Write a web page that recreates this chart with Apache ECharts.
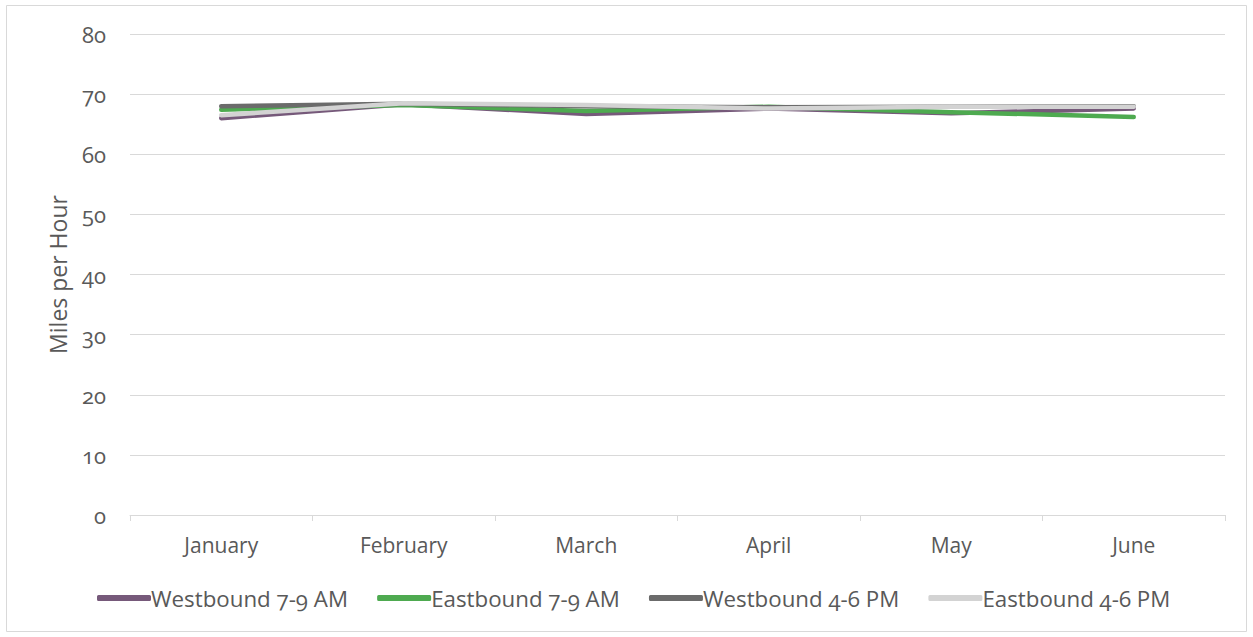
<!DOCTYPE html>
<html>
<head>
<meta charset="utf-8">
<script src="https://cdn.jsdelivr.net/npm/echarts@6/dist/echarts.min.js"></script>
<style>
  html, body { margin: 0; padding: 0; background: #fff; }
  #chart { width: 1253px; height: 637px; }
  #chart text { font-variant-numeric: oldstyle-nums; font-feature-settings: "onum" 1; }
</style>
</head>
<body>
<div id="chart"></div>
<script>
// Monthly average speeds by direction and peak period
const months = ['January', 'February', 'March', 'April', 'May', 'June'];
const westboundAM = [66.0, 68.3, 66.7, 67.6, 66.8, 67.6];
const eastboundAM = [67.4, 68.2, 67.2, 67.9, 67.0, 66.2];
const westboundPM = [68.0, 68.4, 68.0, 67.8, 67.9, 68.0];
const eastboundPM = [66.5, 68.5, 68.2, 67.6, 67.9, 67.9];

const seriesNames = ['Westbound 7-9 AM', 'Eastbound 7-9 AM', 'Westbound 4-6 PM', 'Eastbound 4-6 PM'];
const seriesColors = ['#76597A', '#4EAA50', '#6B6B6B', '#D3D3D3'];
const seriesData = [westboundAM, eastboundAM, westboundPM, eastboundPM];

const FONT = '"Open Sans", sans-serif';
const TEXT_COLOR = '#595959';
const LINE_COLOR = '#D9D9D9';

const chart = echarts.init(document.getElementById('chart'), null, { renderer: 'svg' });

chart.setOption({
  animation: false,
  textStyle: { fontFamily: FONT },
  graphic: [{
    type: 'rect',
    shape: { x: 6.5, y: 5.5, width: 1240, height: 626 },
    style: { fill: 'none', stroke: LINE_COLOR, lineWidth: 1 },
    silent: true
  }],
  grid: { left: 130, right: 28, top: 34, bottom: 122 },
  legend: {
    left: 97,
    top: 587,
    padding: 0,
    itemWidth: 54,
    itemHeight: 6,
    itemGap: 28,
    icon: 'roundRect',
    textStyle: { fontFamily: FONT, fontSize: 22.3, color: TEXT_COLOR, padding: [0, 0, 0, -5] },
    data: seriesNames
  },
  xAxis: {
    type: 'category',
    data: months,
    boundaryGap: true,
    axisLine: { lineStyle: { color: LINE_COLOR, width: 1 } },
    axisTick: { show: true, length: 6, lineStyle: { color: LINE_COLOR } },
    axisLabel: { color: TEXT_COLOR, fontSize: 21, fontFamily: FONT, margin: 19 }
  },
  yAxis: {
    type: 'value',
    min: 0,
    max: 80,
    interval: 10,
    name: 'Miles per Hour',
    nameLocation: 'middle',
    nameGap: 60,
    nameRotate: 90,
    nameTextStyle: { color: TEXT_COLOR, fontSize: 23, fontFamily: FONT },
    axisLine: { show: false },
    axisTick: { show: false },
    axisLabel: { color: TEXT_COLOR, fontSize: 22, fontFamily: FONT, margin: 24 },
    splitLine: { lineStyle: { color: LINE_COLOR, width: 1 } }
  },
  series: seriesNames.map((name, i) => ({
    name: name,
    type: 'line',
    data: seriesData[i],
    symbol: 'none',
    color: seriesColors[i],
    lineStyle: { width: 4.5, color: seriesColors[i], cap: 'round', join: 'round' },
    z: 2 + i
  }))
});
</script>
</body>
</html>
